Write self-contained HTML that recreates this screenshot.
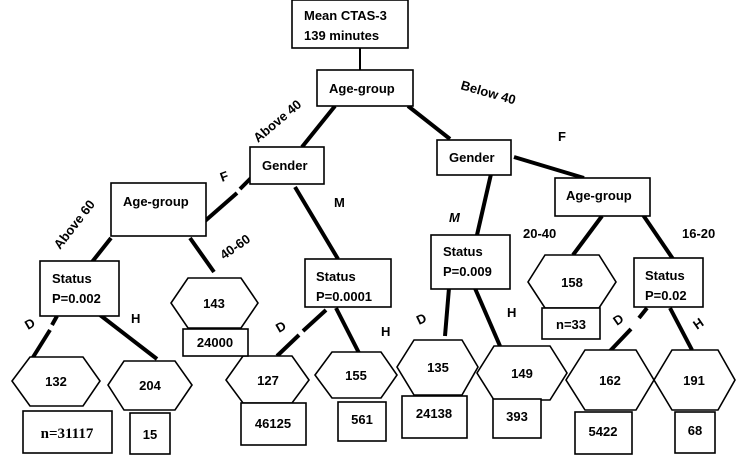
<!DOCTYPE html>
<html><head><meta charset="utf-8"><style>
html,body{margin:0;padding:0;background:#fff}
svg{display:block}
text{font-family:"Liberation Sans",sans-serif;font-weight:bold;font-size:13px;fill:#000}
.b{fill:#fff;stroke:#000;stroke-width:1.6}
.l{stroke:#000;stroke-width:4;fill:none}
</style></head><body>
<svg width="750" height="460" viewBox="0 0 750 460" xmlns="http://www.w3.org/2000/svg">
<line x1="360" y1="48" x2="360" y2="70" stroke="#000" stroke-width="2"/>
<line class="l" x1="335" y1="106" x2="302" y2="147"/>
<line class="l" x1="408" y1="106" x2="450" y2="139"/>
<line class="l" x1="253" y1="176" x2="240" y2="189"/>
<line class="l" x1="237" y1="193" x2="205" y2="221"/>
<line class="l" x1="295" y1="187" x2="338" y2="259"/>
<line class="l" x1="491" y1="174" x2="477" y2="235"/>
<line class="l" x1="514" y1="157" x2="584" y2="178"/>
<line class="l" x1="602" y1="216" x2="573" y2="255"/>
<line class="l" x1="641" y1="212" x2="673" y2="259"/>
<line class="l" x1="111" y1="238" x2="92" y2="262"/>
<line class="l" x1="190" y1="238" x2="214" y2="272"/>
<line class="l" x1="57" y1="316" x2="52" y2="325"/>
<line class="l" x1="50" y1="330" x2="30" y2="362"/>
<line class="l" x1="100" y1="315" x2="157" y2="359"/>
<line class="l" x1="326" y1="310" x2="303" y2="331"/>
<line class="l" x1="299" y1="335" x2="277" y2="356"/>
<line class="l" x1="336" y1="308" x2="359" y2="353"/>
<line class="l" x1="449" y1="288" x2="445" y2="336"/>
<line class="l" x1="474" y1="286" x2="500" y2="346"/>
<line class="l" x1="647" y1="308" x2="639" y2="318"/>
<line class="l" x1="631" y1="329" x2="610" y2="351"/>
<line class="l" x1="670" y1="308" x2="692" y2="350"/>
<rect class="b" x="292" y="0" width="116" height="48"/>
<text x="304" y="20">Mean CTAS-3</text><text x="304" y="40">139 minutes</text>
<rect class="b" x="317" y="70" width="96" height="36"/><text x="329" y="93">Age-group</text>
<rect class="b" x="250" y="147" width="74" height="37"/><text x="262" y="170">Gender</text>
<rect class="b" x="111" y="183" width="95" height="53"/><text x="123" y="206">Age-group</text>
<rect class="b" x="40" y="261" width="79" height="55"/><text x="52" y="283">Status</text><text x="52" y="303">P=0.002</text>
<rect class="b" x="305" y="259" width="86" height="48"/><text x="316" y="281">Status</text><text x="316" y="301">P=0.0001</text>
<rect class="b" x="437" y="140" width="74" height="35"/><text x="449" y="162">Gender</text>
<rect class="b" x="431" y="235" width="79" height="54"/><text x="443" y="256">Status</text><text x="443" y="276">P=0.009</text>
<rect class="b" x="555" y="178" width="95" height="38"/><text x="566" y="200">Age-group</text>
<rect class="b" x="634" y="258" width="69" height="49"/><text x="645" y="280">Status</text><text x="645" y="300">P=0.02</text>
<polygon class="b" points="30,357 83,357 100,381 83,406 30,406 12,381"/><text x="56" y="386" text-anchor="middle">132</text>
<polygon class="b" points="124,361 175,361 192,385 175,410 124,410 108,385"/><text x="150" y="390" text-anchor="middle">204</text>
<polygon class="b" points="188,278 241,278 258,303 241,328 188,328 171,303"/><text x="214" y="308" text-anchor="middle">143</text>
<polygon class="b" points="243,356 292,356 309,380 292,403 243,403 226,380"/><text x="268" y="385" text-anchor="middle">127</text>
<polygon class="b" points="332,352 381,352 397,375 381,398 332,398 315,375"/><text x="356" y="380" text-anchor="middle">155</text>
<polygon class="b" points="414,340 462,340 478,367 462,395 414,395 397,367"/><text x="438" y="372" text-anchor="middle">135</text>
<polygon class="b" points="494,346 550,346 567,373 550,400 494,400 477,373"/><text x="522" y="378" text-anchor="middle">149</text>
<polygon class="b" points="545,255 599,255 616,282 599,308 545,308 528,282"/><text x="572" y="287" text-anchor="middle">158</text>
<polygon class="b" points="585,350 636,350 654,380 636,410 585,410 566,380"/><text x="610" y="385" text-anchor="middle">162</text>
<polygon class="b" points="672,350 718,350 735,380 718,410 672,410 654,380"/><text x="694" y="385" text-anchor="middle">191</text>
<rect class="b" x="23" y="411" width="89" height="42"/><text x="67" y="438" text-anchor="middle" style="font-family:'Liberation Serif',serif;font-size:15px">n=31117</text>
<rect class="b" x="130" y="413" width="40" height="41"/><text x="150" y="439" text-anchor="middle">15</text>
<rect class="b" x="183" y="329" width="65" height="27"/><text x="215" y="347" text-anchor="middle">24000</text>
<rect class="b" x="241" y="403" width="65" height="42"/><text x="273" y="428" text-anchor="middle">46125</text>
<rect class="b" x="338" y="402" width="48" height="39"/><text x="362" y="424" text-anchor="middle">561</text>
<rect class="b" x="402" y="396" width="65" height="42"/><text x="434" y="418" text-anchor="middle">24138</text>
<rect class="b" x="493" y="399" width="48" height="39"/><text x="517" y="421" text-anchor="middle">393</text>
<rect class="b" x="542" y="308" width="58" height="31"/><text x="571" y="329" text-anchor="middle">n=33</text>
<rect class="b" x="575" y="412" width="57" height="42"/><text x="603" y="436" text-anchor="middle">5422</text>
<rect class="b" x="675" y="412" width="40" height="41"/><text x="695" y="435" text-anchor="middle">68</text>
<text transform="translate(258,143) rotate(-40)">Above 40</text>
<text transform="translate(460,89) rotate(16)">Below 40</text>
<text transform="translate(60,250) rotate(-52)">Above 60</text>
<text transform="translate(224,260) rotate(-35)">40-60</text>
<text transform="translate(222,182) rotate(-20)">F</text>
<text x="334" y="207">M</text>
<text x="449" y="222" style="font-style:italic">M</text>
<text x="558" y="141">F</text>
<text x="523" y="238">20-40</text>
<text x="682" y="238">16-20</text>
<text transform="translate(28,330) rotate(-30)">D</text>
<text x="131" y="323">H</text>
<text transform="translate(279,333) rotate(-30)">D</text>
<text x="381" y="336">H</text>
<text transform="translate(419,325) rotate(-25)">D</text>
<text x="507" y="317">H</text>
<text transform="translate(617,326) rotate(-35)">D</text>
<text transform="translate(697,330) rotate(-35)">H</text>
</svg>
</body></html>
